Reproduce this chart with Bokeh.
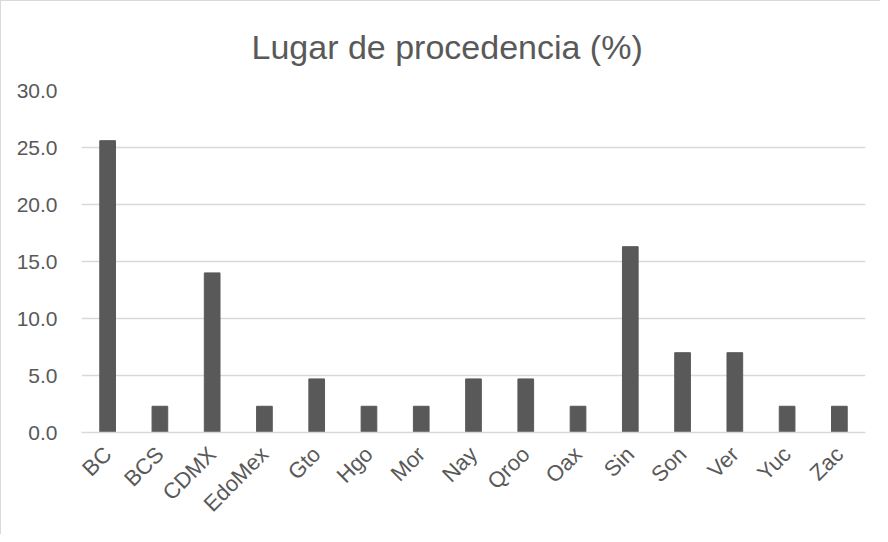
from math import pi
from bokeh.plotting import figure
from bokeh.models import SingleIntervalTicker, NumeralTickFormatter, Range1d
from bokeh.embed import file_html
from bokeh.resources import INLINE

categories = ["BC", "BCS", "CDMX", "EdoMex", "Gto", "Hgo", "Mor", "Nay",
              "Qroo", "Oax", "Sin", "Son", "Ver", "Yuc", "Zac"]
values = [25.6, 2.3, 14.0, 2.3, 4.7, 2.3, 2.3, 4.7, 4.7, 2.3, 16.3, 7.0, 7.0, 2.3, 2.3]
title_text = "Lugar de procedencia (%)"

FONT = "Liberation Sans"
GREY = "#595959"

p = figure(x_range=categories, y_range=Range1d(0, 30), width=880, height=534,
           output_backend="svg", toolbar_location=None,
           min_border_left=80, min_border_right=16, min_border_top=89,
           min_border_bottom=103,
           styles={"border-left": "1px solid #d9d9d9", "border-top": "1px solid #d9d9d9"})

p.vbar(x=categories, top=values, width=0.3, fill_color=GREY, line_color=GREY)

p.title.text = title_text
p.title.text_font = FONT
p.title.text_font_size = "34px"
p.title.text_font_style = "normal"
p.title.text_color = GREY
p.title.align = "left"
p.title.offset = 170
p.title.standoff = 49

p.outline_line_color = None
p.xgrid.grid_line_color = None
p.ygrid.grid_line_color = "#d9d9d9"
p.ygrid.grid_line_width = 1.5

p.yaxis.ticker = SingleIntervalTicker(interval=5)
p.yaxis.formatter = NumeralTickFormatter(format="0.0")
p.yaxis.axis_line_color = None
p.yaxis.major_tick_line_color = None
p.yaxis.minor_tick_line_color = None
p.yaxis.major_label_standoff = 18
p.yaxis.major_label_text_font = FONT
p.yaxis.major_label_text_font_size = "21px"
p.yaxis.major_label_text_color = GREY

p.xaxis.axis_line_color = "#d9d9d9"
p.xaxis.axis_line_width = 1.5
p.xaxis.major_tick_line_color = None
p.xaxis.minor_tick_line_color = None
p.xaxis.major_label_orientation = pi / 4
p.xaxis.major_label_standoff = 12
p.xaxis.major_label_text_font = FONT
p.xaxis.major_label_text_font_size = "22px"
p.xaxis.major_label_text_color = GREY

p.x_range.range_padding = 0

open("out.html", "w").write(file_html(p, INLINE))
